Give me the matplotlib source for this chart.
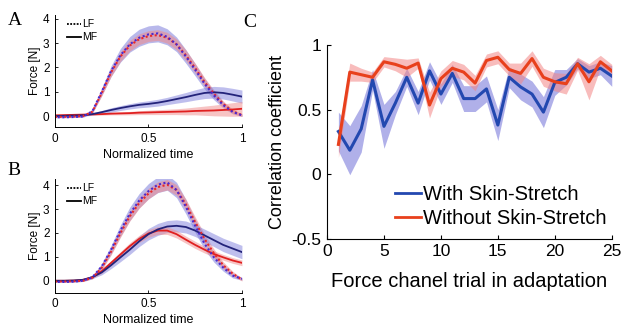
import numpy as np
import matplotlib
matplotlib.use('Agg')
import matplotlib.pyplot as plt

plt.rcParams.update({
    'font.family': ['Liberation Sans', 'DejaVu Sans'],
    'axes.unicode_minus': False,
    'xtick.direction': 'in',
    'ytick.direction': 'in',
})

# Normalized time grid (panels A, B)
t = [0.0, 0.05, 0.1, 0.15, 0.2, 0.25, 0.3, 0.35, 0.4, 0.45, 0.5,
     0.55, 0.6, 0.65, 0.7, 0.75, 0.8, 0.85, 0.9, 0.95, 1.0]

# Panel A
lf_a_blue = [-0.05, -0.05, -0.04, -0.02, 0.2, 1.0, 1.85, 2.5, 2.95, 3.22, 3.36,
             3.4, 3.26, 2.95, 2.45, 1.9, 1.33, 0.85, 0.45, 0.17, 0.03]
lf_a_blue_sd = [0.02, 0.02, 0.02, 0.03, 0.08, 0.15, 0.22, 0.28, 0.32, 0.35, 0.35,
                0.35, 0.33, 0.3, 0.28, 0.25, 0.22, 0.18, 0.12, 0.08, 0.05]
lf_a_red = [-0.03, -0.03, -0.02, 0.0, 0.18, 0.95, 1.8, 2.45, 2.9, 3.16, 3.29,
            3.33, 3.22, 2.95, 2.5, 1.97, 1.4, 0.92, 0.5, 0.2, 0.04]
lf_a_red_sd = [0.02, 0.02, 0.02, 0.03, 0.06, 0.12, 0.17, 0.2, 0.22, 0.22, 0.22,
               0.22, 0.22, 0.22, 0.22, 0.2, 0.18, 0.15, 0.12, 0.08, 0.05]
mf_a_blue = [0.0, 0.01, 0.02, 0.03, 0.08, 0.16, 0.25, 0.33, 0.4, 0.46, 0.5,
             0.55, 0.62, 0.7, 0.78, 0.87, 0.95, 0.98, 0.95, 0.88, 0.8]
mf_a_blue_sd = [0.02, 0.02, 0.02, 0.03, 0.05, 0.07, 0.09, 0.1, 0.11, 0.12, 0.13,
                0.14, 0.15, 0.17, 0.19, 0.21, 0.23, 0.24, 0.25, 0.26, 0.27]
mf_a_red = [0.03, 0.04, 0.05, 0.06, 0.07, 0.08, 0.1, 0.11, 0.12, 0.14, 0.15,
            0.16, 0.17, 0.18, 0.19, 0.21, 0.22, 0.23, 0.25, 0.27, 0.3]
mf_a_red_sd = [0.02, 0.02, 0.02, 0.02, 0.03, 0.04, 0.05, 0.06, 0.07, 0.08, 0.09,
               0.1, 0.11, 0.12, 0.14, 0.16, 0.19, 0.22, 0.25, 0.28, 0.3]

# Panel B
lf_b_blue = [-0.05, -0.05, -0.04, 0.0, 0.15, 0.6, 1.3, 2.1, 2.8, 3.35, 3.75,
             4.02, 4.12, 3.8, 3.1, 2.3, 1.55, 0.98, 0.55, 0.22, 0.08]
lf_b_blue_sd = [0.02, 0.02, 0.02, 0.03, 0.06, 0.12, 0.18, 0.24, 0.28, 0.3, 0.32,
                0.33, 0.33, 0.32, 0.3, 0.28, 0.25, 0.2, 0.15, 0.1, 0.06]
lf_b_red = [-0.03, -0.03, -0.02, 0.0, 0.13, 0.55, 1.22, 2.0, 2.7, 3.25, 3.65,
            3.92, 4.02, 3.8, 3.2, 2.45, 1.75, 1.15, 0.65, 0.3, 0.05]
lf_b_red_sd = [0.02, 0.02, 0.02, 0.03, 0.05, 0.1, 0.14, 0.18, 0.2, 0.22, 0.22,
               0.22, 0.22, 0.22, 0.22, 0.22, 0.2, 0.18, 0.14, 0.1, 0.06]
mf_b_blue = [0.0, 0.0, 0.01, 0.04, 0.15, 0.35, 0.65, 0.98, 1.3, 1.65, 1.95,
             2.15, 2.27, 2.3, 2.25, 2.1, 1.9, 1.7, 1.5, 1.35, 1.2]
mf_b_blue_sd = [0.02, 0.02, 0.02, 0.03, 0.06, 0.1, 0.14, 0.18, 0.2, 0.22, 0.24,
                0.25, 0.25, 0.25, 0.25, 0.25, 0.26, 0.27, 0.28, 0.28, 0.28]
mf_b_red = [0.0, 0.0, 0.01, 0.04, 0.15, 0.4, 0.75, 1.1, 1.45, 1.75, 1.98,
            2.1, 2.1, 1.95, 1.72, 1.5, 1.3, 1.12, 0.98, 0.85, 0.75]
mf_b_red_sd = [0.02, 0.02, 0.02, 0.03, 0.05, 0.08, 0.1, 0.12, 0.14, 0.15, 0.16,
               0.16, 0.16, 0.16, 0.15, 0.15, 0.14, 0.13, 0.12, 0.12, 0.12]

# Panel C
trials = list(range(1, 26))
with_ss = [0.33, 0.185, 0.35, 0.73, 0.37, 0.55, 0.75, 0.55, 0.8, 0.62, 0.78, 0.585,
           0.585, 0.66, 0.38, 0.75, 0.675, 0.62, 0.48, 0.71, 0.75, 0.855, 0.79,
           0.82, 0.76]
with_ss_sd = [0.15, 0.19, 0.18, 0.08, 0.17, 0.09, 0.07, 0.09, 0.07, 0.08, 0.07,
              0.1, 0.1, 0.1, 0.12, 0.08, 0.1, 0.1, 0.12, 0.1, 0.06, 0.04, 0.05,
              0.05, 0.08]
without_ss = [0.23, 0.79, 0.77, 0.75, 0.87, 0.85, 0.82, 0.86, 0.535, 0.74, 0.82,
              0.79, 0.705, 0.88, 0.905, 0.81, 0.78, 0.895, 0.75, 0.715, 0.7,
              0.855, 0.715, 0.87, 0.8]
without_ss_sd = [0.1, 0.07, 0.05, 0.04, 0.04, 0.05, 0.07, 0.04, 0.1, 0.06, 0.06,
                 0.06, 0.06, 0.05, 0.05, 0.05, 0.08, 0.06, 0.07, 0.07, 0.08,
                 0.05, 0.14, 0.05, 0.05]

blue_band = '#7f7fdc'
red_band = '#f08a8a'


def band(ax, x, m, s, color, alpha):
    m = np.array(m)
    s = np.array(s)
    ax.fill_between(x, m - s, m + s, color=color, alpha=alpha, lw=0)


def force_panel(ax, lf_b, lf_b_sd, lf_r, lf_r_sd, mf_b, mf_b_sd, mf_r, mf_r_sd, ylim):
    band(ax, t, lf_b, lf_b_sd, blue_band, 0.55)
    band(ax, t, lf_r, lf_r_sd, red_band, 0.55)
    band(ax, t, mf_b, mf_b_sd, blue_band, 0.5)
    band(ax, t, mf_r, mf_r_sd, red_band, 0.5)
    ax.plot(t, mf_r, color='#e02020', lw=1.3)
    ax.plot(t, mf_b, color='#23237a', lw=1.3)
    ax.plot(t, lf_r, color='#e82828', lw=1.5, ls=(0, (1, 1.2)))
    ax.plot(t, lf_b, color='#4a2ad0', lw=1.5, ls=(0.9, (1, 1.2)))
    ax.plot([], [], color='k', lw=1.3, ls=(0, (1, 0.8)), label='LF')
    ax.plot([], [], color='k', lw=1.3, label='MF')
    ax.legend(loc='upper left', fontsize=7.5, frameon=False, handlelength=1.4,
              handletextpad=0.1, labelspacing=0.3, borderaxespad=0.2,
              bbox_to_anchor=(0.03, 1.02))
    ax.set_xlim(0, 1)
    ax.set_ylim(*ylim)
    ax.set_xticks([0, 0.5, 1])
    ax.set_xticklabels(['0', '0.5', '1'])
    ax.set_yticks([0, 1, 2, 3, 4])
    ax.tick_params(labelsize=8.5, length=2.5, width=0.6, pad=4)
    ax.spines['top'].set_visible(False)
    ax.spines['right'].set_visible(False)
    for sp in ('left', 'bottom'):
        ax.spines[sp].set_linewidth(0.7)
    ax.set_ylabel('Force [N]', fontsize=8.5, labelpad=1)
    ax.set_xlabel('Normalized time', fontsize=9, labelpad=3)


fig = plt.figure(figsize=(6.21, 3.28), dpi=100)

ax_a = fig.add_axes([0.0886, 0.6128, 0.301, 0.341])
force_panel(ax_a, lf_a_blue, lf_a_blue_sd, lf_a_red, lf_a_red_sd,
            mf_a_blue, mf_a_blue_sd, mf_a_red, mf_a_red_sd, (-0.45, 4.15))

ax_b = fig.add_axes([0.0886, 0.1076, 0.301, 0.346])
force_panel(ax_b, lf_b_blue, lf_b_blue_sd, lf_b_red, lf_b_red_sd,
            mf_b_blue, mf_b_blue_sd, mf_b_red, mf_b_red_sd, (-0.5, 4.25))

ax_c = fig.add_axes([0.5266, 0.2723, 0.4585, 0.5905])
band(ax_c, trials, with_ss, with_ss_sd, '#6f6fd8', 0.55)
band(ax_c, trials, without_ss, without_ss_sd, '#f38585', 0.55)
ax_c.plot(trials, with_ss, color='#2348b0', lw=2.2, label='With Skin-Stretch')
ax_c.plot(trials, without_ss, color='#e8401c', lw=2.2, label='Without Skin-Stretch')
ax_c.set_xlim(0, 25)
ax_c.set_ylim(-0.5, 1)
ax_c.set_xticks([0, 5, 10, 15, 20, 25])
ax_c.set_yticks([-0.5, 0, 0.5, 1])
ax_c.set_yticklabels(['-0.5', '0', '0.5', '1'])
ax_c.tick_params(labelsize=12.5, length=3, width=0.8, pad=4)
ax_c.spines['top'].set_visible(False)
ax_c.spines['right'].set_visible(False)
ax_c.set_ylabel('Correlation coefficient', fontsize=13, labelpad=4)
ax_c.set_xlabel('Force chanel trial in adaptation', fontsize=14.5, labelpad=9)
leg = ax_c.legend(loc='lower left', bbox_to_anchor=(0.21, 0.015), fontsize=14.5,
                  frameon=False, handlelength=1.3, handletextpad=0.1,
                  labelspacing=0.25, borderaxespad=0.0)
for h in leg.get_lines():
    h.set_linewidth(2)

fig.text(0.012, 0.924, 'A', fontsize=14, family='Liberation Serif')
fig.text(0.012, 0.466, 'B', fontsize=14, family='Liberation Serif')
fig.text(0.392, 0.918, 'C', fontsize=14, family='Liberation Serif')

fig.savefig('out.png', dpi=100)
